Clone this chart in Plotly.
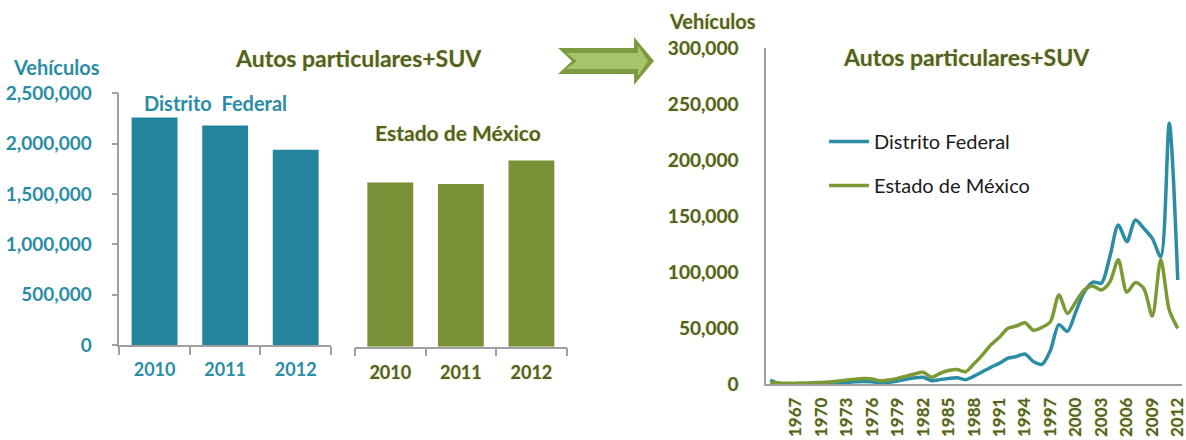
import plotly.graph_objects as go

# ---------------- data ----------------
bar_years = ["2010", "2011", "2012"]
df_stock = [2260000, 2180000, 1940000]
edomex_stock = [1630000, 1615000, 1850000]

years = list(range(1964, 2013))
df_sales = [3500, 500, 300, 300, 300, 400, 500, 700, 1000, 1500, 2000, 2300, 2000,
            800, 1500, 2700, 4200, 5500, 6000, 3000, 3900, 5000, 5600, 3900, 7000,
            11000, 15000, 18500, 23000, 24500, 26800, 20000, 17500, 30000, 53000,
            47000, 64600, 82400, 91000, 90000, 113700, 142000, 127000, 146400,
            139000, 130000, 113700, 232800, 92900]
edomex_sales = [1500, 800, 600, 700, 900, 1100, 1400, 1800, 2600, 3500, 4200, 4800, 4500,
                2800, 3500, 5000, 7000, 9000, 10500, 6000, 9500, 12000, 13000, 11000, 18000,
                26000, 35000, 41700, 49700, 51800, 54700, 48000, 50600, 55600, 79500,
                63000, 73500, 84000, 87500, 84000, 91000, 111000, 82000, 90500,
                85400, 60700, 111000, 66000, 49700]
line_ticks = list(range(1967, 2013, 3))
bar_ticks = [0, 500000, 1000000, 1500000, 2000000, 2500000]
line_yticks = [0, 50000, 100000, 150000, 200000, 250000, 300000]

# ---------------- style ----------------
W, H = 1186, 440
TEAL_BAR = "#23849B"
GREEN_BAR = "#799238"
TEAL_LINE = "#2B8CA6"
GREEN_LINE = "#7B9A36"
TEAL_TXT = "#2A8CA5"
OLIVE_TXT = "#4F6228"
FONT = "Lato"
GLOW = "0px 0px 2px #E3D98A"
AX = "#A0A0A0"


def px(x):
    return x / W


def py(y):
    return 1 - y / H


fig = go.Figure()

fig.add_trace(go.Bar(x=bar_years, y=df_stock, marker_color=TEAL_BAR, xaxis="x", yaxis="y",
                     showlegend=False, marker_line_width=0))
fig.add_trace(go.Bar(x=bar_years, y=edomex_stock, marker_color=GREEN_BAR, xaxis="x2", yaxis="y2",
                     showlegend=False, marker_line_width=0))
fig.add_trace(go.Scatter(x=years, y=df_sales, mode="lines", name="Distrito Federal",
                         line=dict(color=TEAL_LINE, width=3.5, shape="spline", smoothing=0.8),
                         xaxis="x3", yaxis="y3", legendgroup="a"))
fig.add_trace(go.Scatter(x=years, y=edomex_sales, mode="lines", name="Estado de México",
                         line=dict(color=GREEN_LINE, width=3.5, shape="spline", smoothing=0.8),
                         xaxis="x3", yaxis="y3", legendgroup="b"))

bar_tickfont_teal = dict(family=FONT, size=18, color=TEAL_TXT, weight="bold")
bar_tickfont_olive = dict(family=FONT, size=18, color=OLIVE_TXT, weight="bold", shadow=GLOW)

fig.update_layout(
    width=W, height=H,
    margin=dict(l=0, r=0, t=0, b=0),
    paper_bgcolor="white", plot_bgcolor="rgba(0,0,0,0)",
    bargap=0.35,
    font=dict(family=FONT),
    xaxis=dict(domain=[px(119.3), px(331)], type="category", range=[-0.5, 2.5],
               showline=True, linecolor=AX, linewidth=1.5, ticks="outside", tickson="boundaries",
               ticklen=8, tickcolor=AX, tickwidth=1.5, tickfont=bar_tickfont_teal,
               ticklabelstandoff=8, showgrid=False, anchor="y", automargin=False),
    yaxis=dict(domain=[py(345), py(93.3)], range=[0, 2500000], tickvals=bar_ticks,
               tickformat=",d", showline=True, linecolor=AX, linewidth=1.5, ticks="outside",
               ticklen=6, tickcolor=AX, tickwidth=1.5, tickfont=dict(family=FONT, size=19,
               color=TEAL_TXT, weight="bold"), ticklabelstandoff=16, showgrid=False,
               zeroline=False, anchor="x", automargin=False),
    xaxis2=dict(domain=[px(355), px(566.7)], type="category", range=[-0.5, 2.5],
                showline=True, linecolor=AX, linewidth=1.5, ticks="outside", tickson="boundaries",
                ticklen=8, tickcolor=AX, tickwidth=1.5, tickfont=bar_tickfont_olive,
                ticklabelstandoff=9, showgrid=False, anchor="y2", automargin=False),
    yaxis2=dict(domain=[py(346.7), py(95)], range=[0, 2500000], visible=False,
                anchor="x2", showgrid=False, zeroline=False),
    xaxis3=dict(domain=[px(766), px(1182)], range=[1963.5, 2012.5], tickvals=line_ticks,
                tickangle=-90, showline=True, linecolor=AX, linewidth=1.5, ticks="",
                tickfont=dict(family=FONT, size=17, color=OLIVE_TXT, weight="bold", shadow=GLOW),
                ticklabelstandoff=5, ticklabeloverflow="allow", showgrid=False, zeroline=False,
                anchor="y3", automargin=False),
    yaxis3=dict(domain=[py(384), py(48)], range=[0, 300000], tickvals=line_yticks,
                tickformat=",d", showline=True, linecolor=AX, linewidth=1.5, ticks="",
                tickfont=dict(family=FONT, size=19, color=OLIVE_TXT, weight="bold", shadow=GLOW),
                ticklabelstandoff=22, showgrid=False, zeroline=False, anchor="x3", automargin=False),
    legend=dict(x=px(824), y=py(122), xanchor="left", yanchor="top",
                font=dict(family=FONT, size=20, color="#1A1A1A"),
                bgcolor="rgba(0,0,0,0)", traceorder="grouped", tracegroupgap=15,
                itemwidth=40),
    showlegend=True,
)

title_font = dict(family=FONT, size=23, color=OLIVE_TXT, weight="bold", shadow=GLOW)
annots = [
    dict(text="Autos particulares+SUV", x=px(358), y=py(58), font=title_font),
    dict(text="Autos particulares+SUV", x=px(966), y=py(57), font=title_font),
    dict(text="Vehículos", x=px(57), y=py(67),
         font=dict(family=FONT, size=20, color=TEAL_TXT, weight="bold")),
    dict(text="Vehículos", x=px(712), y=py(21),
         font=dict(family=FONT, size=20, color=OLIVE_TXT, weight="bold", shadow=GLOW)),
    dict(text="Distrito  Federal", x=px(215), y=py(103),
         font=dict(family=FONT, size=20, color=TEAL_TXT, weight="bold")),
    dict(text="Estado de México", x=px(458), y=py(132),
         font=dict(family=FONT, size=21, color=OLIVE_TXT, weight="bold", shadow=GLOW)),
]
for a in annots:
    fig.add_annotation(xref="paper", yref="paper", showarrow=False,
                       xanchor="center", yanchor="middle", **a)


def path(points):
    return "M " + " L ".join(f"{px(x):.5f},{py(y):.5f}" for x, y in points) + " Z"


outer = [(558, 48), (634, 48), (634, 37), (654, 61), (634, 85), (634, 74), (558, 74), (572, 61)]
inner = [(566, 53), (638, 53), (638, 46), (648, 61), (638, 76), (638, 69), (566, 69), (577, 61)]
fig.add_shape(type="path", xref="paper", yref="paper", path=path(outer),
              fillcolor="#7C9B3E", line=dict(width=0))
fig.add_shape(type="path", xref="paper", yref="paper", path=path(inner),
              fillcolor="#A6C46C", line=dict(width=0))

fig.write_html("out.html", config={"displayModeBar": False},
               post_script="document.body.style.margin='0';document.body.style.overflow='hidden';")
